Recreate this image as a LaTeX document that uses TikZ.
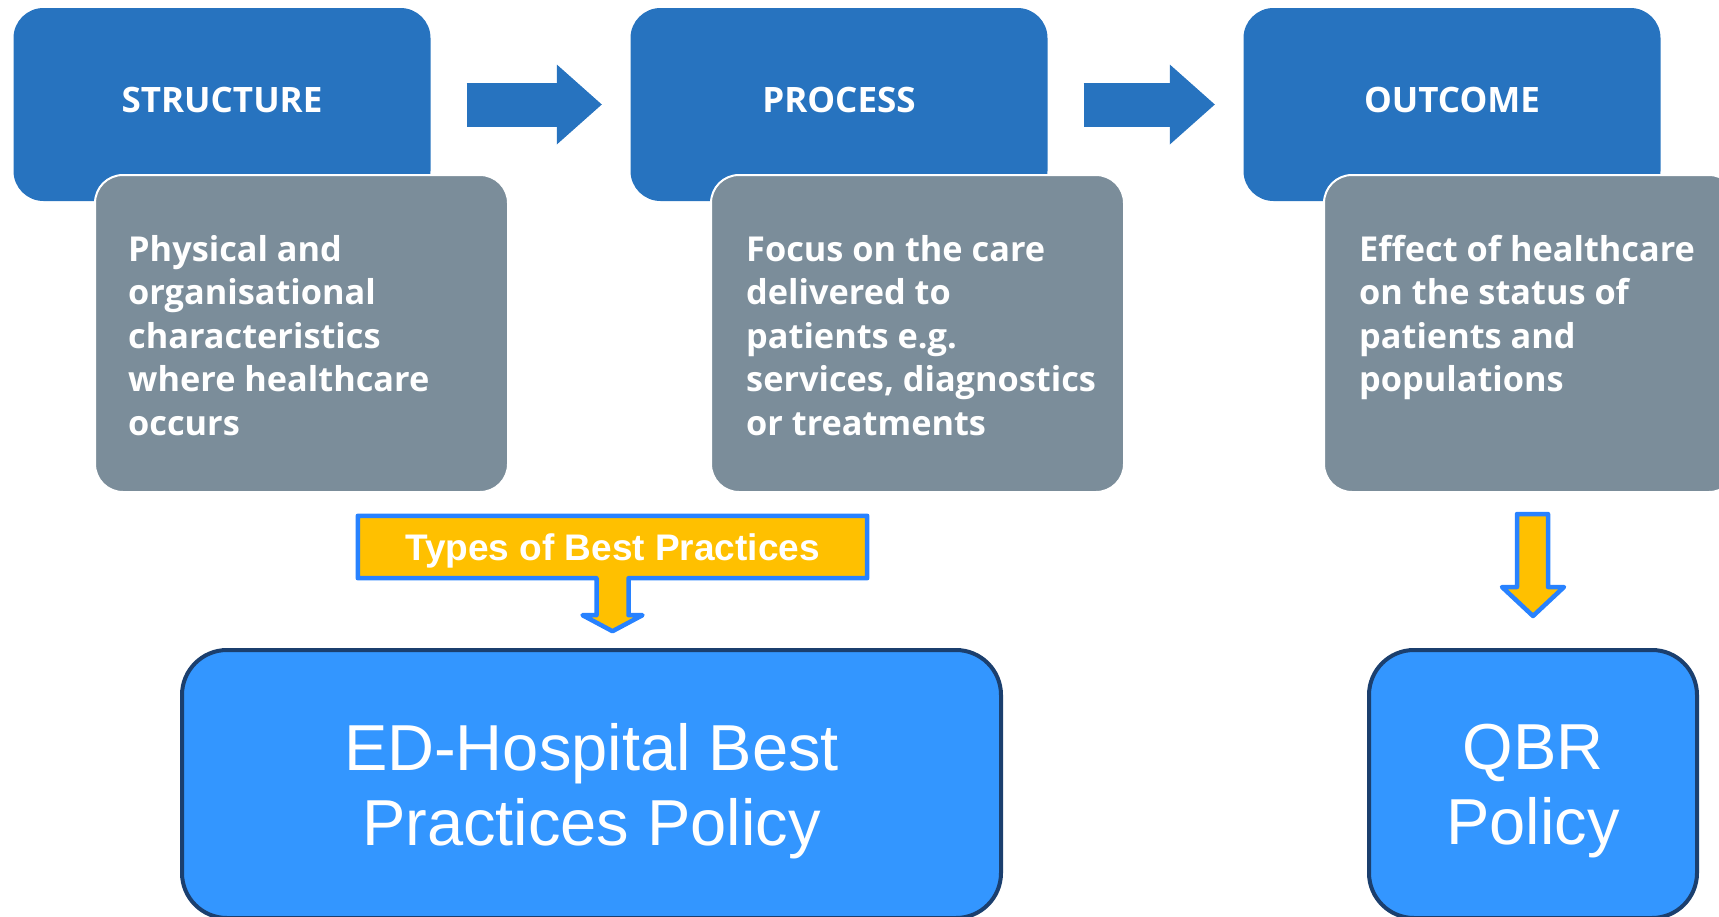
\documentclass[tikz,border=0pt]{standalone}
\usepackage{fontspec}
\setmainfont{Liberation Sans}
\newfontfamily\frutfont{Open Sans}
\usetikzlibrary{positioning,arrows.meta,backgrounds}

\definecolor{hdrblue}{RGB}{39,115,191}
\definecolor{descgray}{RGB}{123,141,154}
\definecolor{callyellow}{RGB}{255,192,0}
\definecolor{callblue}{RGB}{40,130,255}
\definecolor{policyblue}{RGB}{51,150,255}
\definecolor{policyedge}{RGB}{27,63,110}

\tikzset{
  hdrbox/.style={fill=hdrblue, rounded corners=30pt, minimum width=417pt, minimum height=193pt,
    text depth=9pt, text=white, font=\frutfont\bfseries\fontsize{35}{42}\selectfont},
  descbox/.style={fill=descgray, draw=white, line width=2pt, rounded corners=28pt,
    minimum width=413pt, minimum height=317pt},
  desctext/.style={inner sep=0pt, text=white, align=left,
    font=\frutfont\bfseries\fontsize{34.3}{43.5}\selectfont},
  flowarrow/.style={draw=hdrblue, line width=44pt, shorten <=36pt, shorten >=28.5pt,
    -{Triangle[length=45pt, width=80pt, line width=0pt]}},
  callout/.style={fill=callyellow, draw=callblue, line width=4.5pt, line join=round},
  policybox/.style={fill=policyblue, draw=policyedge, line width=4pt, rounded corners=45pt,
    minimum height=268pt, text depth=0pt, text=white, align=center,
    font=\fontsize{65}{75}\selectfont}
}

\begin{document}
\begin{tikzpicture}[x=1pt, y=-1pt]
\useasboundingbox (0,0) rectangle (1719,916);

% Headers
\node[hdrbox] (hs) at (222,104.5) {STRUCTURE};
\node[hdrbox] (hp) at (839,104.5) {PROCESS};
\node[hdrbox] (ho) at (1452,104.5) {OUTCOME};

% Descriptions
\node[descbox] (ds) at (301.5,333.5) {};
\node[descbox] (dp) at (917.5,333.5) {};
\node[descbox] (do) at (1530.5,333.5) {};
\node[desctext, below right=61pt and 34pt of ds.north west] (dstext)
  {Physical and\\organisational\\characteristics\\where healthcare\\occurs};
\node[desctext, below right=61pt and 36pt of dp.north west] (dptext)
  {Focus on the care\\delivered to\\patients e.g.\\services, diagnostics\\or treatments};
\node[desctext, below right=61pt and 36pt of do.north west] (dotext)
  {Effect of healthcare\\on the status of\\patients and\\populations};

% Flow
\draw[flowarrow] (hs) -- (hp);
\draw[flowarrow] (hp) -- (ho);

% Policies
\node[policybox, minimum width=819pt] (ed) at (591.5,784) {ED-Hospital Best\\Practices Policy};
\node[policybox, minimum width=328pt] (qbr) at (1533,784) {QBR\\Policy};

% Callouts
\node[inner sep=0pt, minimum width=509pt, minimum height=62pt, text depth=0pt, text=white,
  font=\bfseries\fontsize{37}{44}\selectfont] (types) at (612.5,547) {Types of Best Practices};
\begin{scope}[on background layer]
\draw[callout] (types.north west) -- (types.north east) -- (types.south east)
  -- ([xshift=16pt]types.south) -- ++(0,37) -- ++(14,0) -- ([yshift=-53pt]types.south)
  -- ++(-30,-16) -- ++(14,0) -- ([xshift=-16pt]types.south) -- (types.south west) -- cycle;
\end{scope}
\draw[callout] ([xshift=-16pt,yshift=134pt]qbr.north) -- ++(31,0) -- ++(0,73) -- ++(16,0)
  -- ([yshift=32pt]qbr.north) -- ++(-31,-29) -- ++(15,0) -- cycle;
\end{tikzpicture}
\end{document}
